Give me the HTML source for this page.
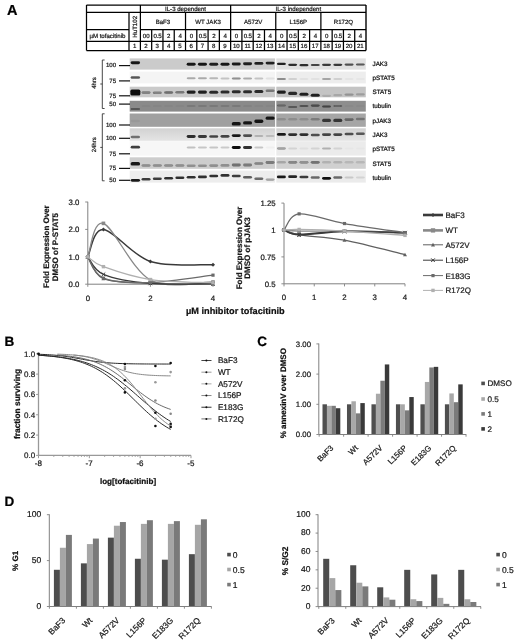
<!DOCTYPE html>
<html><head><meta charset="utf-8"><style>
html,body{margin:0;padding:0;background:#fff;}
svg{display:block;filter:grayscale(1);}
text{font-family:"Liberation Sans", sans-serif;text-rendering:geometricPrecision;stroke:currentColor;stroke-width:0.22px;}
</style></head><body>
<svg width="520" height="642" viewBox="0 0 520 642">
<rect width="520" height="642" fill="#fff"/>
<text x="6.90" y="15.00" font-size="14.5" text-anchor="start" font-weight="bold" fill="#000" color="#000">A</text>
<text x="4.50" y="346.30" font-size="13.5" text-anchor="start" font-weight="bold" fill="#000" color="#000">B</text>
<text x="257.30" y="346.40" font-size="13.5" text-anchor="start" font-weight="bold" fill="#000" color="#000">C</text>
<text x="4.50" y="506.30" font-size="13.5" text-anchor="start" font-weight="bold" fill="#000" color="#000">D</text>
<line x1="86.50" y1="5.00" x2="366.00" y2="5.00" stroke="#000" stroke-width="1.25"/>
<line x1="86.50" y1="12.30" x2="366.00" y2="12.30" stroke="#000" stroke-width="1.25"/>
<line x1="86.50" y1="29.50" x2="129.00" y2="29.50" stroke="#000" stroke-width="1.25"/>
<line x1="140.40" y1="29.50" x2="366.00" y2="29.50" stroke="#000" stroke-width="1.25"/>
<line x1="86.50" y1="41.30" x2="366.00" y2="41.30" stroke="#000" stroke-width="1.25"/>
<line x1="86.50" y1="50.50" x2="366.00" y2="50.50" stroke="#000" stroke-width="1.25"/>
<line x1="86.50" y1="5.00" x2="86.50" y2="50.50" stroke="#000" stroke-width="1.25"/>
<line x1="366.00" y1="5.00" x2="366.00" y2="50.50" stroke="#000" stroke-width="1.4"/>
<line x1="129.00" y1="12.30" x2="129.00" y2="50.50" stroke="#000" stroke-width="1.25"/>
<line x1="140.40" y1="5.00" x2="140.40" y2="50.50" stroke="#000" stroke-width="1.25"/>
<line x1="230.64" y1="5.00" x2="230.64" y2="50.50" stroke="#000" stroke-width="1.25"/>
<line x1="185.52" y1="12.30" x2="185.52" y2="50.50" stroke="#000" stroke-width="1.25"/>
<line x1="275.76" y1="12.30" x2="275.76" y2="50.50" stroke="#000" stroke-width="1.25"/>
<line x1="320.88" y1="12.30" x2="320.88" y2="50.50" stroke="#000" stroke-width="1.25"/>
<line x1="151.68" y1="29.50" x2="151.68" y2="50.50" stroke="#000" stroke-width="1.25"/>
<line x1="162.96" y1="29.50" x2="162.96" y2="50.50" stroke="#000" stroke-width="1.25"/>
<line x1="174.24" y1="29.50" x2="174.24" y2="50.50" stroke="#000" stroke-width="1.25"/>
<line x1="196.80" y1="29.50" x2="196.80" y2="50.50" stroke="#000" stroke-width="1.25"/>
<line x1="208.08" y1="29.50" x2="208.08" y2="50.50" stroke="#000" stroke-width="1.25"/>
<line x1="219.36" y1="29.50" x2="219.36" y2="50.50" stroke="#000" stroke-width="1.25"/>
<line x1="241.92" y1="29.50" x2="241.92" y2="50.50" stroke="#000" stroke-width="1.25"/>
<line x1="253.20" y1="29.50" x2="253.20" y2="50.50" stroke="#000" stroke-width="1.25"/>
<line x1="264.48" y1="29.50" x2="264.48" y2="50.50" stroke="#000" stroke-width="1.25"/>
<line x1="287.04" y1="29.50" x2="287.04" y2="50.50" stroke="#000" stroke-width="1.25"/>
<line x1="298.32" y1="29.50" x2="298.32" y2="50.50" stroke="#000" stroke-width="1.25"/>
<line x1="309.60" y1="29.50" x2="309.60" y2="50.50" stroke="#000" stroke-width="1.25"/>
<line x1="332.16" y1="29.50" x2="332.16" y2="50.50" stroke="#000" stroke-width="1.25"/>
<line x1="343.44" y1="29.50" x2="343.44" y2="50.50" stroke="#000" stroke-width="1.25"/>
<line x1="354.72" y1="29.50" x2="354.72" y2="50.50" stroke="#000" stroke-width="1.25"/>
<text x="185.52" y="10.85" font-size="6.1" text-anchor="middle" fill="#1a1a1a" color="#1a1a1a">IL-3 dependent</text>
<text x="298.32" y="10.85" font-size="6.1" text-anchor="middle" fill="#1a1a1a" color="#1a1a1a">IL-3 independent</text>
<text x="162.96" y="23.60" font-size="6.1" text-anchor="middle" fill="#1a1a1a" color="#1a1a1a">BaF3</text>
<text x="208.08" y="23.60" font-size="6.1" text-anchor="middle" fill="#1a1a1a" color="#1a1a1a">WT JAK3</text>
<text x="253.20" y="23.60" font-size="6.1" text-anchor="middle" fill="#1a1a1a" color="#1a1a1a">A572V</text>
<text x="298.32" y="23.60" font-size="6.1" text-anchor="middle" fill="#1a1a1a" color="#1a1a1a">L156P</text>
<text x="343.44" y="23.60" font-size="6.1" text-anchor="middle" fill="#1a1a1a" color="#1a1a1a">R172Q</text>
<text x="89.40" y="37.60" font-size="6.1" text-anchor="start" fill="#1a1a1a" color="#1a1a1a">µM tofacitinib</text>
<text x="136.90" y="26.80" font-size="6.1" text-anchor="middle" fill="#1a1a1a" color="#1a1a1a" transform="rotate(-90 136.896 26.799999999999997)">HuT102</text>
<text x="146.24" y="37.60" font-size="6.1" text-anchor="middle" fill="#1a1a1a" color="#1a1a1a">00</text>
<text x="157.52" y="37.60" font-size="6.1" text-anchor="middle" fill="#1a1a1a" color="#1a1a1a" letter-spacing="-0.2">0.5</text>
<text x="168.80" y="37.60" font-size="6.1" text-anchor="middle" fill="#1a1a1a" color="#1a1a1a">2</text>
<text x="180.08" y="37.60" font-size="6.1" text-anchor="middle" fill="#1a1a1a" color="#1a1a1a">4</text>
<text x="191.36" y="37.60" font-size="6.1" text-anchor="middle" fill="#1a1a1a" color="#1a1a1a">0</text>
<text x="202.64" y="37.60" font-size="6.1" text-anchor="middle" fill="#1a1a1a" color="#1a1a1a" letter-spacing="-0.2">0.5</text>
<text x="213.92" y="37.60" font-size="6.1" text-anchor="middle" fill="#1a1a1a" color="#1a1a1a">2</text>
<text x="225.20" y="37.60" font-size="6.1" text-anchor="middle" fill="#1a1a1a" color="#1a1a1a">4</text>
<text x="236.48" y="37.60" font-size="6.1" text-anchor="middle" fill="#1a1a1a" color="#1a1a1a">0</text>
<text x="247.76" y="37.60" font-size="6.1" text-anchor="middle" fill="#1a1a1a" color="#1a1a1a" letter-spacing="-0.2">0.5</text>
<text x="259.04" y="37.60" font-size="6.1" text-anchor="middle" fill="#1a1a1a" color="#1a1a1a">2</text>
<text x="270.32" y="37.60" font-size="6.1" text-anchor="middle" fill="#1a1a1a" color="#1a1a1a">4</text>
<text x="281.60" y="37.60" font-size="6.1" text-anchor="middle" fill="#1a1a1a" color="#1a1a1a">0</text>
<text x="292.88" y="37.60" font-size="6.1" text-anchor="middle" fill="#1a1a1a" color="#1a1a1a" letter-spacing="-0.2">0.5</text>
<text x="304.16" y="37.60" font-size="6.1" text-anchor="middle" fill="#1a1a1a" color="#1a1a1a">2</text>
<text x="315.44" y="37.60" font-size="6.1" text-anchor="middle" fill="#1a1a1a" color="#1a1a1a">4</text>
<text x="326.72" y="37.60" font-size="6.1" text-anchor="middle" fill="#1a1a1a" color="#1a1a1a">0</text>
<text x="338.00" y="37.60" font-size="6.1" text-anchor="middle" fill="#1a1a1a" color="#1a1a1a" letter-spacing="-0.2">0.5</text>
<text x="349.28" y="37.60" font-size="6.1" text-anchor="middle" fill="#1a1a1a" color="#1a1a1a">2</text>
<text x="360.56" y="37.60" font-size="6.1" text-anchor="middle" fill="#1a1a1a" color="#1a1a1a">4</text>
<text x="134.70" y="48.10" font-size="6.1" text-anchor="middle" fill="#1a1a1a" color="#1a1a1a">1</text>
<text x="146.04" y="48.10" font-size="6.1" text-anchor="middle" fill="#1a1a1a" color="#1a1a1a">2</text>
<text x="157.32" y="48.10" font-size="6.1" text-anchor="middle" fill="#1a1a1a" color="#1a1a1a">3</text>
<text x="168.60" y="48.10" font-size="6.1" text-anchor="middle" fill="#1a1a1a" color="#1a1a1a">4</text>
<text x="179.88" y="48.10" font-size="6.1" text-anchor="middle" fill="#1a1a1a" color="#1a1a1a">5</text>
<text x="191.16" y="48.10" font-size="6.1" text-anchor="middle" fill="#1a1a1a" color="#1a1a1a">6</text>
<text x="202.44" y="48.10" font-size="6.1" text-anchor="middle" fill="#1a1a1a" color="#1a1a1a">7</text>
<text x="213.72" y="48.10" font-size="6.1" text-anchor="middle" fill="#1a1a1a" color="#1a1a1a">8</text>
<text x="225.00" y="48.10" font-size="6.1" text-anchor="middle" fill="#1a1a1a" color="#1a1a1a">9</text>
<text x="236.28" y="48.10" font-size="6.1" text-anchor="middle" fill="#1a1a1a" color="#1a1a1a">10</text>
<text x="247.56" y="48.10" font-size="6.1" text-anchor="middle" fill="#1a1a1a" color="#1a1a1a">11</text>
<text x="258.84" y="48.10" font-size="6.1" text-anchor="middle" fill="#1a1a1a" color="#1a1a1a">12</text>
<text x="270.12" y="48.10" font-size="6.1" text-anchor="middle" fill="#1a1a1a" color="#1a1a1a">13</text>
<text x="281.40" y="48.10" font-size="6.1" text-anchor="middle" fill="#1a1a1a" color="#1a1a1a">14</text>
<text x="292.68" y="48.10" font-size="6.1" text-anchor="middle" fill="#1a1a1a" color="#1a1a1a">15</text>
<text x="303.96" y="48.10" font-size="6.1" text-anchor="middle" fill="#1a1a1a" color="#1a1a1a">16</text>
<text x="315.24" y="48.10" font-size="6.1" text-anchor="middle" fill="#1a1a1a" color="#1a1a1a">17</text>
<text x="326.52" y="48.10" font-size="6.1" text-anchor="middle" fill="#1a1a1a" color="#1a1a1a">18</text>
<text x="337.80" y="48.10" font-size="6.1" text-anchor="middle" fill="#1a1a1a" color="#1a1a1a">19</text>
<text x="349.08" y="48.10" font-size="6.1" text-anchor="middle" fill="#1a1a1a" color="#1a1a1a">20</text>
<text x="360.36" y="48.10" font-size="6.1" text-anchor="middle" fill="#1a1a1a" color="#1a1a1a">21</text>
<defs><filter id="bl" x="-20%" y="-60%" width="140%" height="220%"><feGaussianBlur stdDeviation="0.5"/></filter><linearGradient id="gj" x1="0" y1="0" x2="0" y2="1"><stop offset="0" stop-color="#d2d2d2"/><stop offset="1" stop-color="#e4e4e4"/></linearGradient></defs>
<rect x="129.70" y="58.40" width="145.40" height="11.20" fill="#cbcbcb"/>
<rect x="276.30" y="58.40" width="89.50" height="11.20" fill="#e0e0e0"/>
<g filter="url(#bl)">
<rect x="130.65" y="61.33" width="9.40" height="2.94" rx="1.6" fill="#111" fill-opacity="0.95"/>
<rect x="186.66" y="62.73" width="9.00" height="2.94" rx="1.6" fill="#111" fill-opacity="0.95"/>
<rect x="197.94" y="62.73" width="9.00" height="2.94" rx="1.6" fill="#111" fill-opacity="0.95"/>
<rect x="209.22" y="62.86" width="9.00" height="2.89" rx="1.6" fill="#111" fill-opacity="0.90"/>
<rect x="220.50" y="62.73" width="9.00" height="2.94" rx="1.6" fill="#111" fill-opacity="0.95"/>
<rect x="231.78" y="62.53" width="9.00" height="2.94" rx="1.6" fill="#111" fill-opacity="0.95"/>
<rect x="243.06" y="62.26" width="9.00" height="2.89" rx="1.6" fill="#111" fill-opacity="0.90"/>
<rect x="254.34" y="61.96" width="9.00" height="2.89" rx="1.6" fill="#111" fill-opacity="0.90"/>
<rect x="265.62" y="61.66" width="9.00" height="2.89" rx="1.6" fill="#111" fill-opacity="0.90"/>
<rect x="276.90" y="62.75" width="9.00" height="2.31" rx="1.6" fill="#111" fill-opacity="0.90"/>
<rect x="288.18" y="63.67" width="9.00" height="2.27" rx="1.6" fill="#111" fill-opacity="0.85"/>
<rect x="299.46" y="64.07" width="9.00" height="2.27" rx="1.6" fill="#111" fill-opacity="0.85"/>
<rect x="310.74" y="63.91" width="9.00" height="2.18" rx="1.6" fill="#111" fill-opacity="0.75"/>
<rect x="322.02" y="63.69" width="9.00" height="2.23" rx="1.6" fill="#111" fill-opacity="0.80"/>
<rect x="333.30" y="63.69" width="9.00" height="2.23" rx="1.6" fill="#111" fill-opacity="0.80"/>
<rect x="344.58" y="63.53" width="9.00" height="2.14" rx="1.6" fill="#111" fill-opacity="0.70"/>
<rect x="355.86" y="63.45" width="9.00" height="2.10" rx="1.6" fill="#111" fill-opacity="0.65"/>
</g>
<text x="372.50" y="66.00" font-size="6.3" text-anchor="start" fill="#111" color="#111">JAK3</text>
<rect x="129.70" y="71.60" width="145.40" height="11.80" fill="#f4f4f4"/>
<rect x="276.30" y="71.60" width="89.50" height="11.80" fill="#ededed"/>
<g filter="url(#bl)">
<rect x="130.65" y="76.16" width="9.40" height="2.47" rx="1.6" fill="#111" fill-opacity="0.70"/>
<rect x="186.66" y="77.26" width="9.00" height="2.09" rx="1.6" fill="#111" fill-opacity="0.30"/>
<rect x="197.94" y="77.26" width="9.00" height="2.09" rx="1.6" fill="#111" fill-opacity="0.30"/>
<rect x="209.22" y="77.28" width="9.00" height="2.04" rx="1.6" fill="#111" fill-opacity="0.25"/>
<rect x="220.50" y="77.40" width="9.00" height="1.99" rx="1.6" fill="#111" fill-opacity="0.20"/>
<rect x="231.78" y="77.38" width="9.00" height="2.23" rx="1.6" fill="#111" fill-opacity="0.45"/>
<rect x="243.06" y="77.46" width="9.00" height="2.09" rx="1.6" fill="#111" fill-opacity="0.30"/>
<rect x="254.34" y="77.50" width="9.00" height="1.99" rx="1.6" fill="#111" fill-opacity="0.20"/>
<rect x="265.62" y="77.56" width="9.00" height="1.88" rx="1.6" fill="#111" fill-opacity="0.08"/>
<rect x="276.90" y="77.88" width="9.00" height="2.23" rx="1.6" fill="#111" fill-opacity="0.45"/>
<rect x="288.18" y="78.04" width="9.00" height="1.92" rx="1.6" fill="#111" fill-opacity="0.12"/>
<rect x="299.46" y="78.08" width="9.00" height="1.85" rx="1.6" fill="#111" fill-opacity="0.05"/>
<rect x="310.74" y="78.08" width="9.00" height="1.85" rx="1.6" fill="#111" fill-opacity="0.05"/>
<rect x="322.02" y="77.96" width="9.00" height="2.09" rx="1.6" fill="#111" fill-opacity="0.30"/>
<rect x="333.30" y="78.04" width="9.00" height="1.92" rx="1.6" fill="#111" fill-opacity="0.12"/>
<rect x="344.58" y="78.08" width="9.00" height="1.84" rx="1.6" fill="#111" fill-opacity="0.04"/>
<rect x="355.86" y="78.09" width="9.00" height="1.83" rx="1.6" fill="#111" fill-opacity="0.03"/>
</g>
<text x="372.50" y="80.40" font-size="6.3" text-anchor="start" fill="#111" color="#111">pSTAT5</text>
<rect x="129.70" y="86.70" width="145.40" height="10.60" fill="#cacaca"/>
<rect x="276.30" y="86.70" width="89.50" height="10.60" fill="#c4c4c4"/>
<g filter="url(#bl)">
<rect x="130.35" y="89.60" width="10.00" height="6.00" rx="1.6" fill="#111" fill-opacity="1.00"/>
<rect x="141.54" y="91.33" width="9.00" height="2.55" rx="1.6" fill="#111" fill-opacity="0.40"/>
<rect x="152.82" y="91.53" width="9.00" height="2.55" rx="1.6" fill="#111" fill-opacity="0.40"/>
<rect x="164.10" y="91.17" width="9.00" height="2.66" rx="1.6" fill="#111" fill-opacity="0.50"/>
<rect x="175.38" y="91.00" width="9.00" height="2.60" rx="1.6" fill="#111" fill-opacity="0.45"/>
<rect x="186.66" y="90.55" width="9.00" height="3.11" rx="1.6" fill="#111" fill-opacity="0.90"/>
<rect x="197.94" y="90.55" width="9.00" height="3.11" rx="1.6" fill="#111" fill-opacity="0.90"/>
<rect x="209.22" y="90.77" width="9.00" height="3.05" rx="1.6" fill="#111" fill-opacity="0.85"/>
<rect x="220.50" y="90.47" width="9.00" height="3.05" rx="1.6" fill="#111" fill-opacity="0.85"/>
<rect x="231.78" y="90.27" width="9.00" height="3.05" rx="1.6" fill="#111" fill-opacity="0.85"/>
<rect x="243.06" y="90.17" width="9.00" height="3.05" rx="1.6" fill="#111" fill-opacity="0.85"/>
<rect x="254.34" y="90.07" width="9.00" height="3.05" rx="1.6" fill="#111" fill-opacity="0.85"/>
<rect x="265.62" y="89.50" width="9.00" height="2.60" rx="1.6" fill="#111" fill-opacity="0.45"/>
<rect x="276.90" y="90.55" width="9.00" height="3.11" rx="1.6" fill="#111" fill-opacity="0.90"/>
<rect x="288.18" y="91.87" width="9.00" height="3.05" rx="1.6" fill="#111" fill-opacity="0.85"/>
<rect x="299.46" y="92.75" width="9.00" height="3.11" rx="1.6" fill="#111" fill-opacity="0.90"/>
<rect x="310.74" y="93.65" width="9.00" height="3.11" rx="1.6" fill="#111" fill-opacity="0.90"/>
<rect x="322.02" y="94.68" width="9.00" height="2.23" rx="1.6" fill="#111" fill-opacity="0.12"/>
<rect x="333.30" y="94.07" width="9.00" height="2.27" rx="1.6" fill="#111" fill-opacity="0.15"/>
<rect x="344.58" y="93.41" width="9.00" height="2.38" rx="1.6" fill="#111" fill-opacity="0.25"/>
<rect x="355.86" y="93.24" width="9.00" height="2.32" rx="1.6" fill="#111" fill-opacity="0.20"/>
</g>
<text x="372.50" y="94.20" font-size="6.3" text-anchor="start" fill="#111" color="#111">STAT5</text>
<rect x="129.70" y="100.80" width="145.40" height="10.80" fill="#8a8a8a"/>
<rect x="276.30" y="100.80" width="89.50" height="10.80" fill="#8e8e8e"/>
<g filter="url(#bl)">
<rect x="130.65" y="107.98" width="9.40" height="2.05" rx="1.6" fill="#111" fill-opacity="0.45"/>
<rect x="141.54" y="105.15" width="9.00" height="1.69" rx="1.6" fill="#111" fill-opacity="0.05"/>
<rect x="152.82" y="105.15" width="9.00" height="1.69" rx="1.6" fill="#111" fill-opacity="0.05"/>
<rect x="164.10" y="105.15" width="9.00" height="1.69" rx="1.6" fill="#111" fill-opacity="0.05"/>
<rect x="175.38" y="105.15" width="9.00" height="1.69" rx="1.6" fill="#111" fill-opacity="0.05"/>
<rect x="186.66" y="105.12" width="9.00" height="1.76" rx="1.6" fill="#111" fill-opacity="0.12"/>
<rect x="197.94" y="105.12" width="9.00" height="1.76" rx="1.6" fill="#111" fill-opacity="0.12"/>
<rect x="209.22" y="105.12" width="9.00" height="1.76" rx="1.6" fill="#111" fill-opacity="0.12"/>
<rect x="220.50" y="105.12" width="9.00" height="1.76" rx="1.6" fill="#111" fill-opacity="0.12"/>
<rect x="231.78" y="105.12" width="9.00" height="1.76" rx="1.6" fill="#111" fill-opacity="0.12"/>
<rect x="243.06" y="105.14" width="9.00" height="1.72" rx="1.6" fill="#111" fill-opacity="0.08"/>
<rect x="254.34" y="105.15" width="9.00" height="1.69" rx="1.6" fill="#111" fill-opacity="0.05"/>
<rect x="265.62" y="105.15" width="9.00" height="1.69" rx="1.6" fill="#111" fill-opacity="0.05"/>
<rect x="276.90" y="104.42" width="9.00" height="1.96" rx="1.6" fill="#111" fill-opacity="0.35"/>
<rect x="288.18" y="105.88" width="9.00" height="2.05" rx="1.6" fill="#111" fill-opacity="0.45"/>
<rect x="299.46" y="104.95" width="9.00" height="2.09" rx="1.6" fill="#111" fill-opacity="0.50"/>
<rect x="310.74" y="104.53" width="9.00" height="2.13" rx="1.6" fill="#111" fill-opacity="0.55"/>
<rect x="322.02" y="105.41" width="9.00" height="2.18" rx="1.6" fill="#111" fill-opacity="0.60"/>
<rect x="333.30" y="105.02" width="9.00" height="1.96" rx="1.6" fill="#111" fill-opacity="0.35"/>
<rect x="344.58" y="105.15" width="9.00" height="1.69" rx="1.6" fill="#111" fill-opacity="0.05"/>
<rect x="355.86" y="105.15" width="9.00" height="1.69" rx="1.6" fill="#111" fill-opacity="0.05"/>
</g>
<text x="372.50" y="107.90" font-size="6.3" text-anchor="start" fill="#111" color="#111">tubulin</text>
<rect x="129.70" y="113.50" width="145.40" height="13.30" fill="#a0a0a0"/>
<rect x="276.30" y="113.50" width="89.50" height="13.30" fill="#a6a6a6"/>
<g filter="url(#bl)">
<rect x="130.65" y="119.84" width="9.40" height="2.31" rx="1.6" fill="#111" fill-opacity="0.05"/>
<rect x="231.78" y="122.11" width="9.00" height="3.39" rx="1.6" fill="#111" fill-opacity="0.95"/>
<rect x="243.06" y="121.21" width="9.00" height="3.39" rx="1.6" fill="#111" fill-opacity="0.95"/>
<rect x="254.34" y="119.51" width="9.00" height="3.39" rx="1.6" fill="#111" fill-opacity="0.95"/>
<rect x="265.62" y="116.41" width="9.00" height="3.39" rx="1.6" fill="#111" fill-opacity="0.95"/>
<rect x="276.90" y="117.98" width="9.00" height="2.43" rx="1.6" fill="#111" fill-opacity="0.15"/>
<rect x="288.18" y="117.98" width="9.00" height="2.43" rx="1.6" fill="#111" fill-opacity="0.15"/>
<rect x="299.46" y="117.98" width="9.00" height="2.43" rx="1.6" fill="#111" fill-opacity="0.15"/>
<rect x="310.74" y="117.92" width="9.00" height="2.55" rx="1.6" fill="#111" fill-opacity="0.25"/>
<rect x="322.02" y="118.83" width="9.00" height="3.15" rx="1.6" fill="#111" fill-opacity="0.75"/>
<rect x="333.30" y="118.83" width="9.00" height="3.15" rx="1.6" fill="#111" fill-opacity="0.75"/>
<rect x="344.58" y="118.20" width="9.00" height="2.79" rx="1.6" fill="#111" fill-opacity="0.45"/>
<rect x="355.86" y="117.69" width="9.00" height="2.61" rx="1.6" fill="#111" fill-opacity="0.30"/>
</g>
<text x="372.50" y="122.60" font-size="6.3" text-anchor="start" fill="#111" color="#111">pJAK3</text>
<rect x="129.70" y="128.30" width="145.40" height="12.50" fill="url(#gj)"/>
<rect x="276.30" y="128.30" width="89.50" height="12.50" fill="url(#gj)"/>
<g filter="url(#bl)">
<rect x="130.65" y="135.74" width="9.40" height="2.52" rx="1.6" fill="#111" fill-opacity="0.55"/>
<rect x="186.66" y="135.08" width="9.00" height="2.83" rx="1.6" fill="#111" fill-opacity="0.85"/>
<rect x="197.94" y="135.11" width="9.00" height="2.78" rx="1.6" fill="#111" fill-opacity="0.80"/>
<rect x="209.22" y="135.13" width="9.00" height="2.73" rx="1.6" fill="#111" fill-opacity="0.75"/>
<rect x="220.50" y="134.94" width="9.00" height="2.73" rx="1.6" fill="#111" fill-opacity="0.75"/>
<rect x="231.78" y="134.13" width="9.00" height="2.94" rx="1.6" fill="#111" fill-opacity="0.95"/>
<rect x="243.06" y="134.26" width="9.00" height="2.68" rx="1.6" fill="#111" fill-opacity="0.70"/>
<rect x="254.34" y="134.92" width="9.00" height="2.16" rx="1.6" fill="#111" fill-opacity="0.20"/>
<rect x="265.62" y="134.95" width="9.00" height="2.11" rx="1.6" fill="#111" fill-opacity="0.15"/>
<rect x="276.90" y="132.93" width="9.00" height="2.94" rx="1.6" fill="#111" fill-opacity="0.95"/>
<rect x="288.18" y="133.18" width="9.00" height="2.83" rx="1.6" fill="#111" fill-opacity="0.85"/>
<rect x="299.46" y="133.18" width="9.00" height="2.83" rx="1.6" fill="#111" fill-opacity="0.85"/>
<rect x="310.74" y="133.66" width="9.00" height="2.68" rx="1.6" fill="#111" fill-opacity="0.70"/>
<rect x="322.02" y="133.23" width="9.00" height="2.73" rx="1.6" fill="#111" fill-opacity="0.75"/>
<rect x="333.30" y="133.23" width="9.00" height="2.73" rx="1.6" fill="#111" fill-opacity="0.75"/>
<rect x="344.58" y="132.66" width="9.00" height="2.68" rx="1.6" fill="#111" fill-opacity="0.70"/>
<rect x="355.86" y="132.49" width="9.00" height="2.63" rx="1.6" fill="#111" fill-opacity="0.65"/>
</g>
<text x="372.50" y="136.80" font-size="6.3" text-anchor="start" fill="#111" color="#111">JAK3</text>
<rect x="129.70" y="141.20" width="145.40" height="14.40" fill="#f7f7f7"/>
<rect x="276.30" y="141.20" width="89.50" height="14.40" fill="#ebebeb"/>
<g filter="url(#bl)">
<rect x="130.65" y="145.81" width="9.40" height="2.78" rx="1.6" fill="#111" fill-opacity="0.80"/>
<rect x="186.66" y="146.41" width="9.00" height="2.18" rx="1.6" fill="#111" fill-opacity="0.22"/>
<rect x="197.94" y="146.42" width="9.00" height="2.16" rx="1.6" fill="#111" fill-opacity="0.20"/>
<rect x="209.22" y="146.42" width="9.00" height="2.16" rx="1.6" fill="#111" fill-opacity="0.20"/>
<rect x="220.50" y="146.43" width="9.00" height="2.14" rx="1.6" fill="#111" fill-opacity="0.18"/>
<rect x="231.78" y="146.00" width="9.00" height="2.99" rx="1.6" fill="#111" fill-opacity="1.00"/>
<rect x="243.06" y="146.08" width="9.00" height="2.83" rx="1.6" fill="#111" fill-opacity="0.85"/>
<rect x="254.34" y="146.42" width="9.00" height="2.16" rx="1.6" fill="#111" fill-opacity="0.20"/>
<rect x="265.62" y="146.51" width="9.00" height="1.98" rx="1.6" fill="#111" fill-opacity="0.03"/>
<rect x="276.90" y="147.34" width="9.00" height="2.31" rx="1.6" fill="#111" fill-opacity="0.35"/>
<rect x="288.18" y="147.47" width="9.00" height="2.05" rx="1.6" fill="#111" fill-opacity="0.10"/>
<rect x="299.46" y="147.50" width="9.00" height="2.00" rx="1.6" fill="#111" fill-opacity="0.05"/>
<rect x="310.74" y="147.47" width="9.00" height="2.05" rx="1.6" fill="#111" fill-opacity="0.10"/>
<rect x="322.02" y="147.40" width="9.00" height="2.21" rx="1.6" fill="#111" fill-opacity="0.25"/>
<rect x="333.30" y="147.47" width="9.00" height="2.05" rx="1.6" fill="#111" fill-opacity="0.10"/>
<rect x="344.58" y="147.51" width="9.00" height="1.97" rx="1.6" fill="#111" fill-opacity="0.02"/>
<rect x="355.86" y="147.51" width="9.00" height="1.97" rx="1.6" fill="#111" fill-opacity="0.02"/>
</g>
<text x="372.50" y="151.20" font-size="6.3" text-anchor="start" fill="#111" color="#111">pSTAT5</text>
<rect x="129.70" y="157.30" width="145.40" height="11.50" fill="#cdcdcd"/>
<rect x="276.30" y="157.30" width="89.50" height="11.50" fill="#d0d0d0"/>
<g filter="url(#bl)">
<rect x="130.65" y="162.11" width="9.40" height="3.39" rx="1.6" fill="#111" fill-opacity="0.95"/>
<rect x="141.54" y="164.16" width="9.00" height="2.67" rx="1.6" fill="#111" fill-opacity="0.35"/>
<rect x="152.82" y="164.16" width="9.00" height="2.67" rx="1.6" fill="#111" fill-opacity="0.35"/>
<rect x="164.10" y="164.16" width="9.00" height="2.67" rx="1.6" fill="#111" fill-opacity="0.35"/>
<rect x="175.38" y="164.16" width="9.00" height="2.67" rx="1.6" fill="#111" fill-opacity="0.35"/>
<rect x="186.66" y="164.50" width="9.00" height="2.61" rx="1.6" fill="#111" fill-opacity="0.30"/>
<rect x="197.94" y="164.50" width="9.00" height="2.61" rx="1.6" fill="#111" fill-opacity="0.30"/>
<rect x="209.22" y="164.29" width="9.00" height="2.61" rx="1.6" fill="#111" fill-opacity="0.30"/>
<rect x="220.50" y="164.09" width="9.00" height="2.61" rx="1.6" fill="#111" fill-opacity="0.30"/>
<rect x="231.78" y="163.57" width="9.00" height="2.85" rx="1.6" fill="#111" fill-opacity="0.50"/>
<rect x="243.06" y="163.60" width="9.00" height="2.79" rx="1.6" fill="#111" fill-opacity="0.45"/>
<rect x="254.34" y="162.13" width="9.00" height="2.73" rx="1.6" fill="#111" fill-opacity="0.40"/>
<rect x="265.62" y="161.10" width="9.00" height="2.79" rx="1.6" fill="#111" fill-opacity="0.45"/>
<rect x="276.90" y="161.06" width="9.00" height="2.49" rx="1.6" fill="#111" fill-opacity="0.20"/>
<rect x="288.18" y="160.94" width="9.00" height="2.73" rx="1.6" fill="#111" fill-opacity="0.40"/>
<rect x="299.46" y="160.97" width="9.00" height="2.67" rx="1.6" fill="#111" fill-opacity="0.35"/>
<rect x="310.74" y="160.88" width="9.00" height="2.85" rx="1.6" fill="#111" fill-opacity="0.50"/>
<rect x="322.02" y="161.09" width="9.00" height="2.43" rx="1.6" fill="#111" fill-opacity="0.15"/>
<rect x="333.30" y="161.09" width="9.00" height="2.43" rx="1.6" fill="#111" fill-opacity="0.15"/>
<rect x="344.58" y="161.10" width="9.00" height="2.39" rx="1.6" fill="#111" fill-opacity="0.12"/>
<rect x="355.86" y="161.10" width="9.00" height="2.39" rx="1.6" fill="#111" fill-opacity="0.12"/>
</g>
<text x="372.50" y="165.50" font-size="6.3" text-anchor="start" fill="#111" color="#111">STAT5</text>
<rect x="129.70" y="170.60" width="145.40" height="12.00" fill="#ededed"/>
<rect x="276.30" y="170.60" width="89.50" height="12.00" fill="#ebebeb"/>
<g filter="url(#bl)">
<rect x="130.65" y="178.94" width="9.40" height="2.71" rx="1.6" fill="#111" fill-opacity="0.95"/>
<rect x="141.54" y="177.92" width="9.00" height="2.57" rx="1.6" fill="#111" fill-opacity="0.80"/>
<rect x="152.82" y="177.52" width="9.00" height="2.57" rx="1.6" fill="#111" fill-opacity="0.80"/>
<rect x="164.10" y="176.89" width="9.00" height="2.62" rx="1.6" fill="#111" fill-opacity="0.85"/>
<rect x="175.38" y="176.39" width="9.00" height="2.62" rx="1.6" fill="#111" fill-opacity="0.85"/>
<rect x="186.66" y="175.99" width="9.00" height="2.62" rx="1.6" fill="#111" fill-opacity="0.85"/>
<rect x="197.94" y="175.59" width="9.00" height="2.62" rx="1.6" fill="#111" fill-opacity="0.85"/>
<rect x="209.22" y="174.69" width="9.00" height="2.62" rx="1.6" fill="#111" fill-opacity="0.85"/>
<rect x="220.50" y="174.09" width="9.00" height="2.62" rx="1.6" fill="#111" fill-opacity="0.85"/>
<rect x="231.78" y="174.72" width="9.00" height="2.57" rx="1.6" fill="#111" fill-opacity="0.80"/>
<rect x="243.06" y="176.09" width="9.00" height="2.42" rx="1.6" fill="#111" fill-opacity="0.65"/>
<rect x="254.34" y="177.61" width="9.00" height="2.38" rx="1.6" fill="#111" fill-opacity="0.60"/>
<rect x="265.62" y="178.53" width="9.00" height="2.14" rx="1.6" fill="#111" fill-opacity="0.35"/>
<rect x="276.90" y="175.54" width="9.00" height="2.71" rx="1.6" fill="#111" fill-opacity="0.95"/>
<rect x="288.18" y="175.37" width="9.00" height="2.66" rx="1.6" fill="#111" fill-opacity="0.90"/>
<rect x="299.46" y="175.72" width="9.00" height="2.57" rx="1.6" fill="#111" fill-opacity="0.80"/>
<rect x="310.74" y="176.31" width="9.00" height="2.38" rx="1.6" fill="#111" fill-opacity="0.60"/>
<rect x="322.02" y="176.92" width="9.00" height="2.76" rx="1.6" fill="#111" fill-opacity="1.00"/>
<rect x="333.30" y="176.31" width="9.00" height="2.38" rx="1.6" fill="#111" fill-opacity="0.60"/>
<rect x="344.58" y="176.53" width="9.00" height="1.94" rx="1.6" fill="#111" fill-opacity="0.15"/>
<rect x="355.86" y="176.55" width="9.00" height="1.90" rx="1.6" fill="#111" fill-opacity="0.10"/>
</g>
<text x="372.50" y="179.60" font-size="6.3" text-anchor="start" fill="#111" color="#111">tubulin</text>
<text x="116.10" y="67.00" font-size="6.1" text-anchor="end" fill="#1a1a1a" color="#1a1a1a">100</text>
<line x1="119.00" y1="65.60" x2="130.00" y2="65.60" stroke="#111" stroke-width="1.2"/>
<text x="116.10" y="83.40" font-size="6.1" text-anchor="end" fill="#1a1a1a" color="#1a1a1a">75</text>
<line x1="119.00" y1="80.90" x2="130.00" y2="80.90" stroke="#111" stroke-width="1.2"/>
<text x="116.10" y="97.50" font-size="6.1" text-anchor="end" fill="#1a1a1a" color="#1a1a1a">75</text>
<line x1="119.00" y1="95.80" x2="130.00" y2="95.80" stroke="#111" stroke-width="1.2"/>
<text x="116.10" y="106.30" font-size="6.1" text-anchor="end" fill="#1a1a1a" color="#1a1a1a">50</text>
<line x1="119.00" y1="104.10" x2="130.00" y2="104.10" stroke="#111" stroke-width="1.2"/>
<text x="116.10" y="127.00" font-size="6.1" text-anchor="end" fill="#1a1a1a" color="#1a1a1a">100</text>
<line x1="119.00" y1="125.00" x2="130.00" y2="125.00" stroke="#111" stroke-width="1.2"/>
<text x="116.10" y="140.30" font-size="6.1" text-anchor="end" fill="#1a1a1a" color="#1a1a1a">100</text>
<line x1="119.00" y1="138.30" x2="130.00" y2="138.30" stroke="#111" stroke-width="1.2"/>
<text x="116.10" y="155.90" font-size="6.1" text-anchor="end" fill="#1a1a1a" color="#1a1a1a">75</text>
<line x1="119.00" y1="153.80" x2="130.00" y2="153.80" stroke="#111" stroke-width="1.2"/>
<text x="116.10" y="170.40" font-size="6.1" text-anchor="end" fill="#1a1a1a" color="#1a1a1a">75</text>
<line x1="119.00" y1="168.40" x2="130.00" y2="168.40" stroke="#111" stroke-width="1.2"/>
<text x="116.10" y="182.30" font-size="6.1" text-anchor="end" fill="#1a1a1a" color="#1a1a1a">50</text>
<line x1="119.00" y1="180.30" x2="130.00" y2="180.30" stroke="#111" stroke-width="1.2"/>
<path d="M104.6 60.00 L102.3 60.00 L102.3 108.50 L104.6 108.50 M102.3 84.00 L100.3 84.00" stroke="#333" stroke-width="0.9" fill="none"/>
<path d="M104.6 113.80 L102.3 113.80 L102.3 180.80 L104.6 180.80 M102.3 147.40 L100.3 147.40" stroke="#333" stroke-width="0.9" fill="none"/>
<text x="95.90" y="83.00" font-size="6.0" text-anchor="middle" fill="#1a1a1a" color="#1a1a1a" transform="rotate(-90 95.89999999999999 83.0)">4hrs</text>
<text x="95.90" y="144.80" font-size="6.0" text-anchor="middle" fill="#1a1a1a" color="#1a1a1a" transform="rotate(-90 95.89999999999999 144.8)">24hrs</text>
<line x1="87.80" y1="201.80" x2="87.80" y2="284.20" stroke="#808080" stroke-width="1.0"/>
<line x1="87.80" y1="284.20" x2="213.00" y2="284.20" stroke="#808080" stroke-width="1.0"/>
<line x1="85.20" y1="202.00" x2="87.80" y2="202.00" stroke="#808080" stroke-width="0.9"/>
<text x="79.40" y="204.80" font-size="7.8" text-anchor="end" fill="#1a1a1a" color="#1a1a1a">3.0</text>
<line x1="85.20" y1="229.40" x2="87.80" y2="229.40" stroke="#808080" stroke-width="0.9"/>
<text x="79.40" y="232.20" font-size="7.8" text-anchor="end" fill="#1a1a1a" color="#1a1a1a">2.0</text>
<line x1="85.20" y1="256.80" x2="87.80" y2="256.80" stroke="#808080" stroke-width="0.9"/>
<text x="79.40" y="259.60" font-size="7.8" text-anchor="end" fill="#1a1a1a" color="#1a1a1a">1.0</text>
<line x1="85.20" y1="284.20" x2="87.80" y2="284.20" stroke="#808080" stroke-width="0.9"/>
<text x="79.40" y="287.00" font-size="7.8" text-anchor="end" fill="#1a1a1a" color="#1a1a1a">0.0</text>
<line x1="87.80" y1="284.20" x2="87.80" y2="286.80" stroke="#808080" stroke-width="0.9"/>
<text x="87.80" y="300.50" font-size="7.8" text-anchor="middle" fill="#1a1a1a" color="#1a1a1a">0</text>
<line x1="150.40" y1="284.20" x2="150.40" y2="286.80" stroke="#808080" stroke-width="0.9"/>
<text x="150.40" y="300.50" font-size="7.8" text-anchor="middle" fill="#1a1a1a" color="#1a1a1a">2</text>
<line x1="213.00" y1="284.20" x2="213.00" y2="286.80" stroke="#808080" stroke-width="0.9"/>
<text x="213.00" y="300.50" font-size="7.8" text-anchor="middle" fill="#1a1a1a" color="#1a1a1a">4</text>
<path d="M87.80 256.80 C90.41 252.23 93.02 228.62 103.45 229.40 C113.88 230.18 132.14 255.57 150.40 261.46 C168.66 267.35 202.57 264.20 213.00 264.75" stroke="#3a3a3a" stroke-width="1.5" fill="none"/>
<path d="M87.80 254.80 L89.80 256.80 L87.80 258.80 L85.80 256.80Z" fill="#3a3a3a"/>
<path d="M103.45 227.40 L105.45 229.40 L103.45 231.40 L101.45 229.40Z" fill="#3a3a3a"/>
<path d="M150.40 259.46 L152.40 261.46 L150.40 263.46 L148.40 261.46Z" fill="#3a3a3a"/>
<path d="M213.00 262.75 L215.00 264.75 L213.00 266.75 L211.00 264.75Z" fill="#3a3a3a"/>
<path d="M87.80 256.80 C90.41 251.23 93.02 219.49 103.45 223.37 C113.88 227.25 132.14 270.32 150.40 280.09 C168.66 289.86 202.57 281.69 213.00 282.01" stroke="#888888" stroke-width="1.3" fill="none"/>
<rect x="86.00" y="255.00" width="3.60" height="3.60" fill="#888888"/>
<rect x="101.65" y="221.57" width="3.60" height="3.60" fill="#888888"/>
<rect x="148.60" y="278.29" width="3.60" height="3.60" fill="#888888"/>
<rect x="211.20" y="280.21" width="3.60" height="3.60" fill="#888888"/>
<path d="M87.80 256.80 C90.41 260.45 93.02 274.29 103.45 278.72 C113.88 283.15 132.14 282.46 150.40 283.38 C168.66 284.29 202.57 284.06 213.00 284.20" stroke="#606060" stroke-width="1.3" fill="none"/>
<path d="M87.80 254.80 L89.80 258.40 L85.80 258.40Z" fill="#606060"/>
<path d="M103.45 276.72 L105.45 280.32 L101.45 280.32Z" fill="#606060"/>
<path d="M150.40 281.38 L152.40 284.98 L148.40 284.98Z" fill="#606060"/>
<path d="M213.00 282.20 L215.00 285.80 L211.00 285.80Z" fill="#606060"/>
<path d="M87.80 256.80 C90.41 259.72 93.02 269.91 103.45 274.34 C113.88 278.77 132.14 281.83 150.40 283.38 C168.66 284.93 202.57 283.61 213.00 283.65" stroke="#3a3a3a" stroke-width="1.3" fill="none"/>
<path d="M86.00 255.00 L89.60 258.60 M89.60 255.00 L86.00 258.60" stroke="#3a3a3a" stroke-width="1"/>
<path d="M101.65 272.54 L105.25 276.14 M105.25 272.54 L101.65 276.14" stroke="#3a3a3a" stroke-width="1"/>
<path d="M148.60 281.58 L152.20 285.18 M152.20 281.58 L148.60 285.18" stroke="#3a3a3a" stroke-width="1"/>
<path d="M211.20 281.85 L214.80 285.45 M214.80 281.85 L211.20 285.45" stroke="#3a3a3a" stroke-width="1"/>
<path d="M87.80 256.80 C90.41 260.36 93.02 273.88 103.45 278.17 C113.88 282.46 132.14 283.06 150.40 282.56 C168.66 282.05 202.57 276.39 213.00 275.16" stroke="#6a6a6a" stroke-width="1.3" fill="none"/>
<rect x="86.20" y="255.20" width="3.20" height="3.20" fill="#6a6a6a"/>
<rect x="101.85" y="276.57" width="3.20" height="3.20" fill="#6a6a6a"/>
<rect x="148.80" y="280.96" width="3.20" height="3.20" fill="#6a6a6a"/>
<rect x="211.40" y="273.56" width="3.20" height="3.20" fill="#6a6a6a"/>
<path d="M87.80 256.80 C90.41 258.44 93.02 262.87 103.45 266.66 C113.88 270.45 132.14 276.85 150.40 279.54 C168.66 282.24 202.57 282.28 213.00 282.83" stroke="#b0b0b0" stroke-width="1.3" fill="none"/>
<rect x="86.10" y="255.10" width="3.40" height="3.40" fill="#b0b0b0"/>
<rect x="101.75" y="264.96" width="3.40" height="3.40" fill="#b0b0b0"/>
<rect x="148.70" y="277.84" width="3.40" height="3.40" fill="#b0b0b0"/>
<rect x="211.30" y="281.13" width="3.40" height="3.40" fill="#b0b0b0"/>
<line x1="284.00" y1="203.20" x2="284.00" y2="283.80" stroke="#808080" stroke-width="1.0"/>
<line x1="284.00" y1="283.80" x2="405.00" y2="283.80" stroke="#808080" stroke-width="1.0"/>
<line x1="281.40" y1="203.10" x2="284.00" y2="203.10" stroke="#808080" stroke-width="0.9"/>
<text x="275.60" y="205.90" font-size="7.8" text-anchor="end" fill="#1a1a1a" color="#1a1a1a">1.25</text>
<line x1="281.40" y1="230.00" x2="284.00" y2="230.00" stroke="#808080" stroke-width="0.9"/>
<text x="275.60" y="232.80" font-size="7.8" text-anchor="end" fill="#1a1a1a" color="#1a1a1a">1</text>
<line x1="281.40" y1="256.90" x2="284.00" y2="256.90" stroke="#808080" stroke-width="0.9"/>
<text x="275.60" y="259.70" font-size="7.8" text-anchor="end" fill="#1a1a1a" color="#1a1a1a">0.75</text>
<line x1="281.40" y1="283.80" x2="284.00" y2="283.80" stroke="#808080" stroke-width="0.9"/>
<text x="275.60" y="286.60" font-size="7.8" text-anchor="end" fill="#1a1a1a" color="#1a1a1a">0.5</text>
<line x1="284.00" y1="283.80" x2="284.00" y2="286.40" stroke="#808080" stroke-width="0.9"/>
<text x="284.00" y="300.10" font-size="7.8" text-anchor="middle" fill="#1a1a1a" color="#1a1a1a">0</text>
<line x1="314.25" y1="283.80" x2="314.25" y2="286.40" stroke="#808080" stroke-width="0.9"/>
<text x="314.25" y="300.10" font-size="7.8" text-anchor="middle" fill="#1a1a1a" color="#1a1a1a">1</text>
<line x1="344.50" y1="283.80" x2="344.50" y2="286.40" stroke="#808080" stroke-width="0.9"/>
<text x="344.50" y="300.10" font-size="7.8" text-anchor="middle" fill="#1a1a1a" color="#1a1a1a">2</text>
<line x1="374.75" y1="283.80" x2="374.75" y2="286.40" stroke="#808080" stroke-width="0.9"/>
<text x="374.75" y="300.10" font-size="7.8" text-anchor="middle" fill="#1a1a1a" color="#1a1a1a">3</text>
<line x1="405.00" y1="283.80" x2="405.00" y2="286.40" stroke="#808080" stroke-width="0.9"/>
<text x="405.00" y="300.10" font-size="7.8" text-anchor="middle" fill="#1a1a1a" color="#1a1a1a">4</text>
<path d="M284.00 230.00 C286.52 230.72 289.04 234.12 299.12 234.30 C309.21 234.48 326.85 231.35 344.50 231.08 C362.15 230.81 394.92 232.42 405.00 232.69" stroke="#3a3a3a" stroke-width="1.5" fill="none"/>
<path d="M284.00 228.00 L286.00 230.00 L284.00 232.00 L282.00 230.00Z" fill="#3a3a3a"/>
<path d="M299.12 232.30 L301.12 234.30 L299.12 236.30 L297.12 234.30Z" fill="#3a3a3a"/>
<path d="M344.50 229.08 L346.50 231.08 L344.50 233.08 L342.50 231.08Z" fill="#3a3a3a"/>
<path d="M405.00 230.69 L407.00 232.69 L405.00 234.69 L403.00 232.69Z" fill="#3a3a3a"/>
<path d="M284.00 230.00 C286.52 230.18 289.04 230.90 299.12 231.08 C309.21 231.26 326.85 230.72 344.50 231.08 C362.15 231.43 394.92 232.87 405.00 233.23" stroke="#888888" stroke-width="1.3" fill="none"/>
<rect x="282.20" y="228.20" width="3.60" height="3.60" fill="#888888"/>
<rect x="297.32" y="229.28" width="3.60" height="3.60" fill="#888888"/>
<rect x="342.70" y="229.28" width="3.60" height="3.60" fill="#888888"/>
<rect x="403.20" y="231.43" width="3.60" height="3.60" fill="#888888"/>
<path d="M284.00 230.00 C286.52 230.81 289.04 233.14 299.12 234.84 C309.21 236.55 326.85 236.90 344.50 240.22 C362.15 243.54 394.92 252.33 405.00 254.75" stroke="#606060" stroke-width="1.3" fill="none"/>
<path d="M284.00 228.00 L286.00 231.60 L282.00 231.60Z" fill="#606060"/>
<path d="M299.12 232.84 L301.12 236.44 L297.12 236.44Z" fill="#606060"/>
<path d="M344.50 238.22 L346.50 241.82 L342.50 241.82Z" fill="#606060"/>
<path d="M405.00 252.75 L407.00 256.35 L403.00 256.35Z" fill="#606060"/>
<path d="M284.00 230.00 C286.52 230.81 289.04 234.57 299.12 234.84 C309.21 235.11 326.85 231.97 344.50 231.61 C362.15 231.26 394.92 232.51 405.00 232.69" stroke="#3a3a3a" stroke-width="1.3" fill="none"/>
<path d="M282.20 228.20 L285.80 231.80 M285.80 228.20 L282.20 231.80" stroke="#3a3a3a" stroke-width="1"/>
<path d="M297.32 233.04 L300.93 236.64 M300.93 233.04 L297.32 236.64" stroke="#3a3a3a" stroke-width="1"/>
<path d="M342.70 229.81 L346.30 233.41 M346.30 229.81 L342.70 233.41" stroke="#3a3a3a" stroke-width="1"/>
<path d="M403.20 230.89 L406.80 234.49 M406.80 230.89 L403.20 234.49" stroke="#3a3a3a" stroke-width="1"/>
<path d="M284.00 230.00 C286.52 227.31 289.04 214.94 299.12 213.86 C309.21 212.78 326.85 220.41 344.50 223.54 C362.15 226.68 394.92 231.17 405.00 232.69" stroke="#6a6a6a" stroke-width="1.3" fill="none"/>
<rect x="282.40" y="228.40" width="3.20" height="3.20" fill="#6a6a6a"/>
<rect x="297.52" y="212.26" width="3.20" height="3.20" fill="#6a6a6a"/>
<rect x="342.90" y="221.94" width="3.20" height="3.20" fill="#6a6a6a"/>
<rect x="403.40" y="231.09" width="3.20" height="3.20" fill="#6a6a6a"/>
<path d="M284.00 230.00 C286.52 229.91 289.04 229.28 299.12 229.46 C309.21 229.64 326.85 230.09 344.50 231.08 C362.15 232.06 394.92 234.66 405.00 235.38" stroke="#b0b0b0" stroke-width="1.3" fill="none"/>
<rect x="282.30" y="228.30" width="3.40" height="3.40" fill="#b0b0b0"/>
<rect x="297.43" y="227.76" width="3.40" height="3.40" fill="#b0b0b0"/>
<rect x="342.80" y="229.38" width="3.40" height="3.40" fill="#b0b0b0"/>
<rect x="403.30" y="233.68" width="3.40" height="3.40" fill="#b0b0b0"/>
<text x="49.30" y="246.60" font-size="8.0" text-anchor="middle" font-weight="bold" fill="#1a1a1a" color="#1a1a1a" transform="rotate(-90 49.3 246.6)">Fold Expression Over</text>
<text x="57.80" y="247.10" font-size="8.0" text-anchor="middle" font-weight="bold" fill="#1a1a1a" color="#1a1a1a" transform="rotate(-90 57.8 247.1)">DMSO of P-STAT5</text>
<text x="241.60" y="248.00" font-size="8.0" text-anchor="middle" font-weight="bold" fill="#1a1a1a" color="#1a1a1a" transform="rotate(-90 241.6 248.0)">Fold Expression Over</text>
<text x="250.10" y="248.00" font-size="8.0" text-anchor="middle" font-weight="bold" fill="#1a1a1a" color="#1a1a1a" transform="rotate(-90 250.1 248.0)">DMSO of pJAK3</text>
<text x="186.00" y="314.20" font-size="9.2" text-anchor="start" font-weight="bold" fill="#111" color="#111">µM inhibitor tofacitinib</text>
<line x1="423.00" y1="215.00" x2="443.00" y2="215.00" stroke="#3a3a3a" stroke-width="2.6"/>
<path d="M433.00 213.00 L435.00 215.00 L433.00 217.00 L431.00 215.00Z" fill="#3a3a3a"/>
<text x="445.50" y="217.90" font-size="8.0" text-anchor="start" fill="#1a1a1a" color="#1a1a1a">BaF3</text>
<line x1="423.00" y1="230.40" x2="443.00" y2="230.40" stroke="#888888" stroke-width="2.6"/>
<rect x="430.84" y="228.24" width="4.32" height="4.32" fill="#888888"/>
<text x="445.50" y="233.30" font-size="8.0" text-anchor="start" fill="#1a1a1a" color="#1a1a1a">WT</text>
<line x1="423.00" y1="244.80" x2="443.00" y2="244.80" stroke="#606060" stroke-width="1.0"/>
<path d="M433.00 242.80 L435.00 246.40 L431.00 246.40Z" fill="#606060"/>
<text x="445.50" y="247.70" font-size="8.0" text-anchor="start" fill="#1a1a1a" color="#1a1a1a">A572V</text>
<line x1="423.00" y1="260.20" x2="443.00" y2="260.20" stroke="#3a3a3a" stroke-width="1.0"/>
<path d="M431.20 258.40 L434.80 262.00 M434.80 258.40 L431.20 262.00" stroke="#3a3a3a" stroke-width="1"/>
<text x="445.50" y="263.10" font-size="8.0" text-anchor="start" fill="#1a1a1a" color="#1a1a1a">L156P</text>
<line x1="423.00" y1="275.60" x2="443.00" y2="275.60" stroke="#6a6a6a" stroke-width="1.0"/>
<rect x="431.40" y="274.00" width="3.20" height="3.20" fill="#6a6a6a"/>
<text x="445.50" y="278.50" font-size="8.0" text-anchor="start" fill="#1a1a1a" color="#1a1a1a">E183G</text>
<line x1="423.00" y1="290.40" x2="443.00" y2="290.40" stroke="#b0b0b0" stroke-width="1.0"/>
<rect x="431.30" y="288.70" width="3.40" height="3.40" fill="#b0b0b0"/>
<text x="445.50" y="293.30" font-size="8.0" text-anchor="start" fill="#1a1a1a" color="#1a1a1a">R172Q</text>
<line x1="38.50" y1="353.30" x2="38.50" y2="455.40" stroke="#999999" stroke-width="1.3"/>
<line x1="38.50" y1="455.40" x2="190.99" y2="455.40" stroke="#999999" stroke-width="1.3"/>
<line x1="36.10" y1="455.40" x2="38.50" y2="455.40" stroke="#999999" stroke-width="1.0"/>
<text x="35.10" y="458.30" font-size="8.0" text-anchor="end" fill="#1a1a1a" color="#1a1a1a">0.0</text>
<line x1="36.10" y1="435.08" x2="38.50" y2="435.08" stroke="#999999" stroke-width="1.0"/>
<text x="35.10" y="437.98" font-size="8.0" text-anchor="end" fill="#1a1a1a" color="#1a1a1a">0.2</text>
<line x1="36.10" y1="414.76" x2="38.50" y2="414.76" stroke="#999999" stroke-width="1.0"/>
<text x="35.10" y="417.66" font-size="8.0" text-anchor="end" fill="#1a1a1a" color="#1a1a1a">0.4</text>
<line x1="36.10" y1="394.44" x2="38.50" y2="394.44" stroke="#999999" stroke-width="1.0"/>
<text x="35.10" y="397.34" font-size="8.0" text-anchor="end" fill="#1a1a1a" color="#1a1a1a">0.6</text>
<line x1="36.10" y1="374.12" x2="38.50" y2="374.12" stroke="#999999" stroke-width="1.0"/>
<text x="35.10" y="377.02" font-size="8.0" text-anchor="end" fill="#1a1a1a" color="#1a1a1a">0.8</text>
<line x1="36.10" y1="353.80" x2="38.50" y2="353.80" stroke="#999999" stroke-width="1.0"/>
<text x="35.10" y="356.70" font-size="8.0" text-anchor="end" fill="#1a1a1a" color="#1a1a1a">1.0</text>
<line x1="38.50" y1="455.40" x2="38.50" y2="458.20" stroke="#999999" stroke-width="1.0"/>
<text x="38.30" y="465.60" font-size="8.0" text-anchor="middle" fill="#1a1a1a" color="#1a1a1a">-8</text>
<line x1="53.80" y1="455.40" x2="53.80" y2="457.00" stroke="#999999" stroke-width="0.8"/>
<line x1="62.75" y1="455.40" x2="62.75" y2="457.00" stroke="#999999" stroke-width="0.8"/>
<line x1="69.10" y1="455.40" x2="69.10" y2="457.00" stroke="#999999" stroke-width="0.8"/>
<line x1="74.03" y1="455.40" x2="74.03" y2="457.00" stroke="#999999" stroke-width="0.8"/>
<line x1="78.05" y1="455.40" x2="78.05" y2="457.00" stroke="#999999" stroke-width="0.8"/>
<line x1="81.46" y1="455.40" x2="81.46" y2="457.00" stroke="#999999" stroke-width="0.8"/>
<line x1="84.40" y1="455.40" x2="84.40" y2="457.00" stroke="#999999" stroke-width="0.8"/>
<line x1="87.00" y1="455.40" x2="87.00" y2="457.00" stroke="#999999" stroke-width="0.8"/>
<line x1="89.33" y1="455.40" x2="89.33" y2="458.20" stroke="#999999" stroke-width="1.0"/>
<text x="89.13" y="465.60" font-size="8.0" text-anchor="middle" fill="#1a1a1a" color="#1a1a1a">-7</text>
<line x1="104.63" y1="455.40" x2="104.63" y2="457.00" stroke="#999999" stroke-width="0.8"/>
<line x1="113.58" y1="455.40" x2="113.58" y2="457.00" stroke="#999999" stroke-width="0.8"/>
<line x1="119.93" y1="455.40" x2="119.93" y2="457.00" stroke="#999999" stroke-width="0.8"/>
<line x1="124.86" y1="455.40" x2="124.86" y2="457.00" stroke="#999999" stroke-width="0.8"/>
<line x1="128.88" y1="455.40" x2="128.88" y2="457.00" stroke="#999999" stroke-width="0.8"/>
<line x1="132.29" y1="455.40" x2="132.29" y2="457.00" stroke="#999999" stroke-width="0.8"/>
<line x1="135.23" y1="455.40" x2="135.23" y2="457.00" stroke="#999999" stroke-width="0.8"/>
<line x1="137.83" y1="455.40" x2="137.83" y2="457.00" stroke="#999999" stroke-width="0.8"/>
<line x1="140.16" y1="455.40" x2="140.16" y2="458.20" stroke="#999999" stroke-width="1.0"/>
<text x="139.96" y="465.60" font-size="8.0" text-anchor="middle" fill="#1a1a1a" color="#1a1a1a">-6</text>
<line x1="155.46" y1="455.40" x2="155.46" y2="457.00" stroke="#999999" stroke-width="0.8"/>
<line x1="164.41" y1="455.40" x2="164.41" y2="457.00" stroke="#999999" stroke-width="0.8"/>
<line x1="170.76" y1="455.40" x2="170.76" y2="457.00" stroke="#999999" stroke-width="0.8"/>
<line x1="175.69" y1="455.40" x2="175.69" y2="457.00" stroke="#999999" stroke-width="0.8"/>
<line x1="179.71" y1="455.40" x2="179.71" y2="457.00" stroke="#999999" stroke-width="0.8"/>
<line x1="183.12" y1="455.40" x2="183.12" y2="457.00" stroke="#999999" stroke-width="0.8"/>
<line x1="186.06" y1="455.40" x2="186.06" y2="457.00" stroke="#999999" stroke-width="0.8"/>
<line x1="188.66" y1="455.40" x2="188.66" y2="457.00" stroke="#999999" stroke-width="0.8"/>
<line x1="190.99" y1="455.40" x2="190.99" y2="458.20" stroke="#999999" stroke-width="1.0"/>
<text x="190.79" y="465.60" font-size="8.0" text-anchor="middle" fill="#1a1a1a" color="#1a1a1a">-5</text>
<text x="20.50" y="403.90" font-size="8.4" text-anchor="middle" font-weight="bold" fill="#111" color="#111" transform="rotate(-90 20.5 403.9)">fraction surviving</text>
<text x="128.00" y="484.00" font-size="8.1" text-anchor="middle" font-weight="bold" fill="#111" color="#111">log[tofacitinib]</text>
<polyline points="38.50,354.26 40.70,354.34 42.91,354.43 45.11,354.53 47.31,354.64 49.51,354.78 51.72,354.93 53.92,355.10 56.12,355.29 58.32,355.50 60.53,355.74 62.73,356.00 64.93,356.29 67.13,356.60 69.34,356.94 71.54,357.29 73.74,357.67 75.94,358.06 78.15,358.46 80.35,358.87 82.55,359.28 84.76,359.68 86.96,360.07 89.16,360.45 91.36,360.82 93.57,361.16 95.77,361.48 97.97,361.77 100.17,362.04 102.38,362.29 104.58,362.51 106.78,362.71 108.98,362.89 111.19,363.04 113.39,363.18 115.59,363.30 117.79,363.40 120.00,363.50 122.20,363.57 124.40,363.64 126.61,363.70 128.81,363.75 131.01,363.80 133.21,363.84 135.42,363.87 137.62,363.90 139.82,363.92 142.02,363.94 144.23,363.96 146.43,363.97 148.63,363.99 150.83,364.00 153.04,364.01 155.24,364.01 157.44,364.02 159.64,364.03 161.85,364.03 164.05,364.04 166.25,364.04 168.46,364.04 170.66,364.05" stroke="#2a2a2a" stroke-width="1.0" fill="none"/>
<polyline points="57.31,354.15 59.20,354.20 61.09,354.27 62.97,354.34 64.86,354.43 66.75,354.52 68.64,354.64 70.53,354.77 72.42,354.92 74.31,355.09 76.20,355.28 78.09,355.51 79.98,355.76 81.87,356.04 83.76,356.37 85.64,356.73 87.53,357.13 89.42,357.58 91.31,358.08 93.20,358.63 95.09,359.22 96.98,359.86 98.87,360.55 100.76,361.27 102.65,362.04 104.54,362.84 106.43,363.65 108.32,364.49 110.20,365.32 112.09,366.16 113.98,366.98 115.87,367.77 117.76,368.54 119.65,369.27 121.54,369.96 123.43,370.60 125.32,371.20 127.21,371.74 129.10,372.24 130.99,372.70 132.87,373.10 134.76,373.47 136.65,373.79 138.54,374.08 140.43,374.33 142.32,374.56 144.21,374.75 146.10,374.93 147.99,375.08 149.88,375.21 151.77,375.32 153.66,375.42 155.54,375.51 157.43,375.58 159.32,375.65 161.21,375.70 163.10,375.75 164.99,375.79 166.88,375.83 168.77,375.86 170.66,375.88" stroke="#8a8a8a" stroke-width="1.0" fill="none"/>
<polyline points="57.31,355.10 59.20,355.23 61.09,355.38 62.97,355.54 64.86,355.71 66.75,355.90 68.64,356.11 70.53,356.34 72.42,356.59 74.31,356.87 76.20,357.17 78.09,357.50 79.98,357.86 81.87,358.25 83.76,358.67 85.64,359.13 87.53,359.63 89.42,360.18 91.31,360.76 93.20,361.40 95.09,362.08 96.98,362.82 98.87,363.60 100.76,364.45 102.65,365.35 104.54,366.31 106.43,367.32 108.32,368.40 110.20,369.53 112.09,370.72 113.98,371.96 115.87,373.26 117.76,374.61 119.65,376.00 121.54,377.43 123.43,378.90 125.32,380.40 127.21,381.92 129.10,383.45 130.99,385.00 132.87,386.54 134.76,388.08 136.65,389.60 138.54,391.10 140.43,392.58 142.32,394.02 144.21,395.42 146.10,396.78 147.99,398.08 149.88,399.34 151.77,400.54 153.66,401.68 155.54,402.77 157.43,403.80 159.32,404.76 161.21,405.67 163.10,406.53 164.99,407.33 166.88,408.07 168.77,408.76 170.66,409.41" stroke="#6a6a6a" stroke-width="1.0" fill="none"/>
<polyline points="38.50,355.20 40.70,355.33 42.91,355.47 45.11,355.62 47.31,355.79 49.51,355.97 51.72,356.17 53.92,356.39 56.12,356.63 58.32,356.88 60.53,357.16 62.73,357.47 64.93,357.80 67.13,358.16 69.34,358.55 71.54,358.97 73.74,359.42 75.94,359.91 78.15,360.45 80.35,361.02 82.55,361.64 84.76,362.31 86.96,363.03 89.16,363.79 91.36,364.62 93.57,365.50 95.77,366.44 97.97,367.45 100.17,368.52 102.38,369.65 104.58,370.85 106.78,372.11 108.98,373.45 111.19,374.85 113.39,376.31 115.59,377.85 117.79,379.44 120.00,381.09 122.20,382.80 124.40,384.55 126.61,386.36 128.81,388.20 131.01,390.08 133.21,391.98 135.42,393.90 137.62,395.84 139.82,397.78 142.02,399.71 144.23,401.63 146.43,403.53 148.63,405.41 150.83,407.25 153.04,409.05 155.24,410.81 157.44,412.52 159.64,414.17 161.85,415.76 164.05,417.29 166.25,418.75 168.46,420.15 170.66,421.48" stroke="#2a2a2a" stroke-width="1.0" fill="none"/>
<polyline points="38.50,355.22 40.70,355.36 42.91,355.52 45.11,355.69 47.31,355.87 49.51,356.07 51.72,356.30 53.92,356.54 56.12,356.81 58.32,357.10 60.53,357.42 62.73,357.77 64.93,358.15 67.13,358.56 69.34,359.01 71.54,359.50 73.74,360.04 75.94,360.62 78.15,361.25 80.35,361.93 82.55,362.67 84.76,363.47 86.96,364.33 89.16,365.25 91.36,366.25 93.57,367.31 95.77,368.45 97.97,369.67 100.17,370.97 102.38,372.34 104.58,373.79 106.78,375.33 108.98,376.94 111.19,378.63 113.39,380.40 115.59,382.24 117.79,384.14 120.00,386.11 122.20,388.13 124.40,390.20 126.61,392.31 128.81,394.45 131.01,396.61 133.21,398.78 135.42,400.95 137.62,403.12 139.82,405.27 142.02,407.39 144.23,409.47 146.43,411.51 148.63,413.50 150.83,415.42 153.04,417.29 155.24,419.08 157.44,420.80 159.64,422.44 161.85,424.00 164.05,425.48 166.25,426.89 168.46,428.21 170.66,429.45" stroke="#2a2a2a" stroke-width="1.0" fill="none"/>
<polyline points="73.57,355.06 75.19,355.19 76.81,355.34 78.43,355.50 80.05,355.67 81.66,355.86 83.28,356.07 84.90,356.31 86.52,356.56 88.14,356.84 89.75,357.15 91.37,357.49 92.99,357.86 94.61,358.26 96.23,358.71 97.84,359.19 99.46,359.72 101.08,360.30 102.70,360.92 104.32,361.61 105.93,362.34 107.55,363.15 109.17,364.01 110.79,364.94 112.41,365.95 114.02,367.03 115.64,368.18 117.26,369.42 118.88,370.73 120.50,372.13 122.12,373.60 123.73,375.16 125.35,376.79 126.97,378.50 128.59,380.28 130.21,382.13 131.82,384.04 133.44,386.00 135.06,388.01 136.68,390.06 138.30,392.13 139.91,394.22 141.53,396.32 143.15,398.41 144.77,400.49 146.39,402.55 148.00,404.57 149.62,406.56 151.24,408.48 152.86,410.36 154.48,412.16 156.10,413.90 157.71,415.56 159.33,417.15 160.95,418.65 162.57,420.08 164.19,421.42 165.80,422.69 167.42,423.87 169.04,424.98 170.66,426.01" stroke="#8a8a8a" stroke-width="1.0" fill="none"/>
<circle cx="124.91" cy="363.96" r="1.3" fill="#111"/>
<circle cx="124.91" cy="367.01" r="1.3" fill="#999"/>
<circle cx="124.91" cy="369.04" r="1.3" fill="#888"/>
<circle cx="124.91" cy="380.22" r="1.3" fill="#111"/>
<circle cx="124.91" cy="388.34" r="1.3" fill="#999"/>
<circle cx="124.91" cy="392.41" r="1.3" fill="#111"/>
<circle cx="155.41" cy="365.99" r="1.3" fill="#111"/>
<circle cx="155.41" cy="382.25" r="1.3" fill="#999"/>
<circle cx="155.41" cy="400.54" r="1.3" fill="#888"/>
<circle cx="155.41" cy="412.73" r="1.3" fill="#111"/>
<circle cx="155.41" cy="418.82" r="1.3" fill="#999"/>
<circle cx="155.41" cy="425.94" r="1.3" fill="#111"/>
<circle cx="170.66" cy="362.94" r="1.3" fill="#111"/>
<circle cx="170.66" cy="372.09" r="1.3" fill="#999"/>
<circle cx="170.66" cy="413.74" r="1.3" fill="#888"/>
<circle cx="170.66" cy="423.90" r="1.3" fill="#111"/>
<circle cx="170.66" cy="425.94" r="1.3" fill="#999"/>
<circle cx="170.66" cy="426.95" r="1.3" fill="#111"/>
<circle cx="38.50" cy="353.80" r="1.4" fill="#111"/>
<line x1="201.40" y1="360.50" x2="211.50" y2="360.50" stroke="#444" stroke-width="1.0"/>
<circle cx="206.4" cy="360.50" r="1.0" fill="#111"/>
<text x="217.90" y="363.40" font-size="8.2" text-anchor="start" fill="#1a1a1a" color="#1a1a1a">BaF3</text>
<line x1="201.40" y1="372.18" x2="211.50" y2="372.18" stroke="#999" stroke-width="1.0"/>
<circle cx="206.4" cy="372.18" r="1.0" fill="#111"/>
<text x="217.90" y="375.08" font-size="8.2" text-anchor="start" fill="#1a1a1a" color="#1a1a1a">WT</text>
<line x1="201.40" y1="383.86" x2="211.50" y2="383.86" stroke="#aaa" stroke-width="1.0"/>
<circle cx="206.4" cy="383.86" r="1.0" fill="#111"/>
<text x="217.90" y="386.76" font-size="8.2" text-anchor="start" fill="#1a1a1a" color="#1a1a1a">A572V</text>
<line x1="201.40" y1="395.54" x2="211.50" y2="395.54" stroke="#888" stroke-width="1.0"/>
<circle cx="206.4" cy="395.54" r="1.0" fill="#111"/>
<text x="217.90" y="398.44" font-size="8.2" text-anchor="start" fill="#1a1a1a" color="#1a1a1a">L156P</text>
<line x1="201.40" y1="407.22" x2="211.50" y2="407.22" stroke="#333" stroke-width="1.0"/>
<circle cx="206.4" cy="407.22" r="1.0" fill="#111"/>
<text x="217.90" y="410.12" font-size="8.2" text-anchor="start" fill="#1a1a1a" color="#1a1a1a">E183G</text>
<line x1="201.40" y1="418.90" x2="211.50" y2="418.90" stroke="#777" stroke-width="1.0"/>
<circle cx="206.4" cy="418.90" r="1.0" fill="#111"/>
<text x="217.90" y="421.80" font-size="8.2" text-anchor="start" fill="#1a1a1a" color="#1a1a1a">R172Q</text>
<rect x="322.50" y="404.30" width="4.45" height="30.20" fill="#4f4f4f"/>
<rect x="326.95" y="405.81" width="4.45" height="28.69" fill="#a8a8a8"/>
<rect x="331.40" y="405.81" width="4.45" height="28.69" fill="#7b7b7b"/>
<rect x="335.85" y="408.23" width="4.45" height="26.27" fill="#3a3a3a"/>
<rect x="346.98" y="404.30" width="4.45" height="30.20" fill="#4f4f4f"/>
<rect x="351.43" y="401.28" width="4.45" height="33.22" fill="#a8a8a8"/>
<rect x="355.88" y="413.36" width="4.45" height="21.14" fill="#7b7b7b"/>
<rect x="360.33" y="403.09" width="4.45" height="31.41" fill="#3a3a3a"/>
<rect x="371.46" y="404.30" width="4.45" height="30.20" fill="#4f4f4f"/>
<rect x="375.91" y="393.73" width="4.45" height="40.77" fill="#a8a8a8"/>
<rect x="380.36" y="380.74" width="4.45" height="53.76" fill="#7b7b7b"/>
<rect x="384.81" y="364.44" width="4.45" height="70.06" fill="#3a3a3a"/>
<rect x="395.94" y="404.30" width="4.45" height="30.20" fill="#4f4f4f"/>
<rect x="400.39" y="404.30" width="4.45" height="30.20" fill="#a8a8a8"/>
<rect x="404.84" y="410.34" width="4.45" height="24.16" fill="#7b7b7b"/>
<rect x="409.29" y="397.05" width="4.45" height="37.45" fill="#3a3a3a"/>
<rect x="420.42" y="404.30" width="4.45" height="30.20" fill="#4f4f4f"/>
<rect x="424.87" y="381.95" width="4.45" height="52.55" fill="#a8a8a8"/>
<rect x="429.32" y="367.46" width="4.45" height="67.04" fill="#7b7b7b"/>
<rect x="433.77" y="366.85" width="4.45" height="67.65" fill="#3a3a3a"/>
<rect x="444.90" y="404.30" width="4.45" height="30.20" fill="#4f4f4f"/>
<rect x="449.35" y="393.43" width="4.45" height="41.07" fill="#a8a8a8"/>
<rect x="453.80" y="402.19" width="4.45" height="32.31" fill="#7b7b7b"/>
<rect x="458.25" y="384.37" width="4.45" height="50.13" fill="#3a3a3a"/>
<line x1="318.80" y1="343.50" x2="318.80" y2="434.50" stroke="#808080" stroke-width="1.0"/>
<line x1="318.80" y1="434.50" x2="466.30" y2="434.50" stroke="#808080" stroke-width="1.0"/>
<line x1="316.40" y1="343.90" x2="318.80" y2="343.90" stroke="#808080" stroke-width="0.9"/>
<line x1="316.40" y1="374.10" x2="318.80" y2="374.10" stroke="#808080" stroke-width="0.9"/>
<line x1="316.40" y1="404.30" x2="318.80" y2="404.30" stroke="#808080" stroke-width="0.9"/>
<line x1="316.40" y1="434.50" x2="318.80" y2="434.50" stroke="#808080" stroke-width="0.9"/>
<text x="311.00" y="346.71" font-size="7.8" text-anchor="end" fill="#1a1a1a" color="#1a1a1a">3.00</text>
<text x="311.00" y="376.91" font-size="7.8" text-anchor="end" fill="#1a1a1a" color="#1a1a1a">2.00</text>
<text x="311.00" y="407.11" font-size="7.8" text-anchor="end" fill="#1a1a1a" color="#1a1a1a">1.00</text>
<text x="311.00" y="437.31" font-size="7.8" text-anchor="end" fill="#1a1a1a" color="#1a1a1a">0.00</text>
<line x1="319.16" y1="434.50" x2="319.16" y2="436.70" stroke="#808080" stroke-width="0.9"/>
<line x1="343.64" y1="434.50" x2="343.64" y2="436.70" stroke="#808080" stroke-width="0.9"/>
<line x1="368.12" y1="434.50" x2="368.12" y2="436.70" stroke="#808080" stroke-width="0.9"/>
<line x1="392.60" y1="434.50" x2="392.60" y2="436.70" stroke="#808080" stroke-width="0.9"/>
<line x1="417.08" y1="434.50" x2="417.08" y2="436.70" stroke="#808080" stroke-width="0.9"/>
<line x1="441.56" y1="434.50" x2="441.56" y2="436.70" stroke="#808080" stroke-width="0.9"/>
<line x1="466.04" y1="434.50" x2="466.04" y2="436.70" stroke="#808080" stroke-width="0.9"/>
<text x="334.00" y="448.50" font-size="8.0" text-anchor="end" fill="#1a1a1a" color="#1a1a1a" transform="rotate(-45 334.0 448.5)">BaF3</text>
<text x="358.48" y="448.50" font-size="8.0" text-anchor="end" fill="#1a1a1a" color="#1a1a1a" transform="rotate(-45 358.48 448.5)">Wt</text>
<text x="382.96" y="448.50" font-size="8.0" text-anchor="end" fill="#1a1a1a" color="#1a1a1a" transform="rotate(-45 382.96 448.5)">A572V</text>
<text x="407.44" y="448.50" font-size="8.0" text-anchor="end" fill="#1a1a1a" color="#1a1a1a" transform="rotate(-45 407.44 448.5)">L156P</text>
<text x="431.92" y="448.50" font-size="8.0" text-anchor="end" fill="#1a1a1a" color="#1a1a1a" transform="rotate(-45 431.92 448.5)">E183G</text>
<text x="456.40" y="448.50" font-size="8.0" text-anchor="end" fill="#1a1a1a" color="#1a1a1a" transform="rotate(-45 456.4 448.5)">R172Q</text>
<text x="286.00" y="393.20" font-size="8.0" text-anchor="middle" font-weight="bold" fill="#111" color="#111" transform="rotate(-90 286.0 393.2)">% annexinV over DMSO</text>
<rect x="481.30" y="381.60" width="3.60" height="3.60" fill="#4f4f4f"/>
<text x="487.40" y="386.30" font-size="8.1" text-anchor="start" fill="#1a1a1a" color="#1a1a1a">DMSO</text>
<rect x="481.30" y="397.20" width="3.60" height="3.60" fill="#a8a8a8"/>
<text x="487.40" y="401.90" font-size="8.1" text-anchor="start" fill="#1a1a1a" color="#1a1a1a">0.5</text>
<rect x="481.30" y="412.10" width="3.60" height="3.60" fill="#7b7b7b"/>
<text x="487.40" y="416.80" font-size="8.1" text-anchor="start" fill="#1a1a1a" color="#1a1a1a">1</text>
<rect x="481.30" y="427.10" width="3.60" height="3.60" fill="#3a3a3a"/>
<text x="487.40" y="431.80" font-size="8.1" text-anchor="start" fill="#1a1a1a" color="#1a1a1a">2</text>
<rect x="53.90" y="569.78" width="6.00" height="36.72" fill="#4d4d4d"/>
<rect x="59.90" y="547.75" width="6.00" height="58.75" fill="#a6a6a6"/>
<rect x="65.90" y="534.90" width="6.00" height="71.60" fill="#7a7a7a"/>
<rect x="80.90" y="563.35" width="6.00" height="43.15" fill="#4d4d4d"/>
<rect x="86.90" y="544.08" width="6.00" height="62.42" fill="#a6a6a6"/>
<rect x="92.90" y="538.57" width="6.00" height="67.93" fill="#7a7a7a"/>
<rect x="107.90" y="537.65" width="6.00" height="68.85" fill="#4d4d4d"/>
<rect x="113.90" y="525.72" width="6.00" height="80.78" fill="#a6a6a6"/>
<rect x="119.90" y="522.04" width="6.00" height="84.46" fill="#7a7a7a"/>
<rect x="134.90" y="558.76" width="6.00" height="47.74" fill="#4d4d4d"/>
<rect x="140.90" y="523.88" width="6.00" height="82.62" fill="#a6a6a6"/>
<rect x="146.90" y="520.21" width="6.00" height="86.29" fill="#7a7a7a"/>
<rect x="161.90" y="559.68" width="6.00" height="46.82" fill="#4d4d4d"/>
<rect x="167.90" y="523.88" width="6.00" height="82.62" fill="#a6a6a6"/>
<rect x="173.90" y="521.13" width="6.00" height="85.37" fill="#7a7a7a"/>
<rect x="188.90" y="554.17" width="6.00" height="52.33" fill="#4d4d4d"/>
<rect x="194.90" y="524.80" width="6.00" height="81.70" fill="#a6a6a6"/>
<rect x="200.90" y="519.29" width="6.00" height="87.21" fill="#7a7a7a"/>
<line x1="49.30" y1="514.30" x2="49.30" y2="606.50" stroke="#808080" stroke-width="1.0"/>
<line x1="49.30" y1="606.50" x2="211.60" y2="606.50" stroke="#808080" stroke-width="1.0"/>
<line x1="46.90" y1="514.70" x2="49.30" y2="514.70" stroke="#808080" stroke-width="0.9"/>
<line x1="46.90" y1="560.60" x2="49.30" y2="560.60" stroke="#808080" stroke-width="0.9"/>
<line x1="46.90" y1="606.50" x2="49.30" y2="606.50" stroke="#808080" stroke-width="0.9"/>
<text x="41.20" y="517.06" font-size="8.5" text-anchor="end" fill="#1a1a1a" color="#1a1a1a">100</text>
<text x="41.20" y="562.96" font-size="8.5" text-anchor="end" fill="#1a1a1a" color="#1a1a1a">50</text>
<text x="41.20" y="608.86" font-size="8.5" text-anchor="end" fill="#1a1a1a" color="#1a1a1a">0</text>
<line x1="49.40" y1="606.50" x2="49.40" y2="608.70" stroke="#808080" stroke-width="0.9"/>
<line x1="76.40" y1="606.50" x2="76.40" y2="608.70" stroke="#808080" stroke-width="0.9"/>
<line x1="103.40" y1="606.50" x2="103.40" y2="608.70" stroke="#808080" stroke-width="0.9"/>
<line x1="130.40" y1="606.50" x2="130.40" y2="608.70" stroke="#808080" stroke-width="0.9"/>
<line x1="157.40" y1="606.50" x2="157.40" y2="608.70" stroke="#808080" stroke-width="0.9"/>
<line x1="184.40" y1="606.50" x2="184.40" y2="608.70" stroke="#808080" stroke-width="0.9"/>
<line x1="211.40" y1="606.50" x2="211.40" y2="608.70" stroke="#808080" stroke-width="0.9"/>
<text x="65.90" y="621.00" font-size="8.4" text-anchor="end" fill="#1a1a1a" color="#1a1a1a" transform="rotate(-45 65.9 621.0)">BaF3</text>
<text x="92.90" y="621.00" font-size="8.4" text-anchor="end" fill="#1a1a1a" color="#1a1a1a" transform="rotate(-45 92.9 621.0)">Wt</text>
<text x="119.90" y="621.00" font-size="8.4" text-anchor="end" fill="#1a1a1a" color="#1a1a1a" transform="rotate(-45 119.9 621.0)">A572V</text>
<text x="146.90" y="621.00" font-size="8.4" text-anchor="end" fill="#1a1a1a" color="#1a1a1a" transform="rotate(-45 146.9 621.0)">L156P</text>
<text x="173.90" y="621.00" font-size="8.4" text-anchor="end" fill="#1a1a1a" color="#1a1a1a" transform="rotate(-45 173.9 621.0)">E183G</text>
<text x="200.90" y="621.00" font-size="8.4" text-anchor="end" fill="#1a1a1a" color="#1a1a1a" transform="rotate(-45 200.9 621.0)">R172Q</text>
<rect x="323.20" y="558.81" width="6.05" height="47.79" fill="#4d4d4d"/>
<rect x="329.25" y="578.11" width="6.05" height="28.49" fill="#a6a6a6"/>
<rect x="335.30" y="590.06" width="6.05" height="16.54" fill="#7a7a7a"/>
<rect x="350.20" y="565.25" width="6.05" height="41.36" fill="#4d4d4d"/>
<rect x="356.25" y="582.71" width="6.05" height="23.89" fill="#a6a6a6"/>
<rect x="362.30" y="586.38" width="6.05" height="20.22" fill="#7a7a7a"/>
<rect x="377.20" y="587.30" width="6.05" height="19.30" fill="#4d4d4d"/>
<rect x="383.25" y="597.41" width="6.05" height="9.19" fill="#a6a6a6"/>
<rect x="389.30" y="599.71" width="6.05" height="6.89" fill="#7a7a7a"/>
<rect x="404.20" y="569.84" width="6.05" height="36.76" fill="#4d4d4d"/>
<rect x="410.25" y="599.25" width="6.05" height="7.35" fill="#a6a6a6"/>
<rect x="416.30" y="601.09" width="6.05" height="5.51" fill="#7a7a7a"/>
<rect x="431.20" y="574.44" width="6.05" height="32.16" fill="#4d4d4d"/>
<rect x="437.25" y="597.87" width="6.05" height="8.73" fill="#a6a6a6"/>
<rect x="443.30" y="603.84" width="6.05" height="2.76" fill="#7a7a7a"/>
<rect x="458.20" y="569.84" width="6.05" height="36.76" fill="#4d4d4d"/>
<rect x="464.25" y="599.25" width="6.05" height="7.35" fill="#a6a6a6"/>
<rect x="470.30" y="602.00" width="6.05" height="4.60" fill="#7a7a7a"/>
<line x1="318.00" y1="514.30" x2="318.00" y2="606.60" stroke="#808080" stroke-width="1.0"/>
<line x1="318.00" y1="606.60" x2="481.00" y2="606.60" stroke="#808080" stroke-width="1.0"/>
<line x1="315.60" y1="514.70" x2="318.00" y2="514.70" stroke="#808080" stroke-width="0.9"/>
<line x1="315.60" y1="533.08" x2="318.00" y2="533.08" stroke="#808080" stroke-width="0.9"/>
<line x1="315.60" y1="551.46" x2="318.00" y2="551.46" stroke="#808080" stroke-width="0.9"/>
<line x1="315.60" y1="569.84" x2="318.00" y2="569.84" stroke="#808080" stroke-width="0.9"/>
<line x1="315.60" y1="588.22" x2="318.00" y2="588.22" stroke="#808080" stroke-width="0.9"/>
<line x1="315.60" y1="606.60" x2="318.00" y2="606.60" stroke="#808080" stroke-width="0.9"/>
<text x="310.40" y="517.06" font-size="8.5" text-anchor="end" fill="#1a1a1a" color="#1a1a1a">100</text>
<text x="310.40" y="535.44" font-size="8.5" text-anchor="end" fill="#1a1a1a" color="#1a1a1a">80</text>
<text x="310.40" y="553.82" font-size="8.5" text-anchor="end" fill="#1a1a1a" color="#1a1a1a">60</text>
<text x="310.40" y="572.20" font-size="8.5" text-anchor="end" fill="#1a1a1a" color="#1a1a1a">40</text>
<text x="310.40" y="590.58" font-size="8.5" text-anchor="end" fill="#1a1a1a" color="#1a1a1a">20</text>
<text x="310.40" y="608.96" font-size="8.5" text-anchor="end" fill="#1a1a1a" color="#1a1a1a">0</text>
<line x1="318.77" y1="606.60" x2="318.77" y2="608.80" stroke="#808080" stroke-width="0.9"/>
<line x1="345.77" y1="606.60" x2="345.77" y2="608.80" stroke="#808080" stroke-width="0.9"/>
<line x1="372.77" y1="606.60" x2="372.77" y2="608.80" stroke="#808080" stroke-width="0.9"/>
<line x1="399.77" y1="606.60" x2="399.77" y2="608.80" stroke="#808080" stroke-width="0.9"/>
<line x1="426.77" y1="606.60" x2="426.77" y2="608.80" stroke="#808080" stroke-width="0.9"/>
<line x1="453.77" y1="606.60" x2="453.77" y2="608.80" stroke="#808080" stroke-width="0.9"/>
<line x1="480.77" y1="606.60" x2="480.77" y2="608.80" stroke="#808080" stroke-width="0.9"/>
<text x="335.27" y="621.10" font-size="8.4" text-anchor="end" fill="#1a1a1a" color="#1a1a1a" transform="rotate(-45 335.275 621.1)">BaF3</text>
<text x="362.27" y="621.10" font-size="8.4" text-anchor="end" fill="#1a1a1a" color="#1a1a1a" transform="rotate(-45 362.275 621.1)">Wt</text>
<text x="389.27" y="621.10" font-size="8.4" text-anchor="end" fill="#1a1a1a" color="#1a1a1a" transform="rotate(-45 389.275 621.1)">A572V</text>
<text x="416.27" y="621.10" font-size="8.4" text-anchor="end" fill="#1a1a1a" color="#1a1a1a" transform="rotate(-45 416.275 621.1)">L156P</text>
<text x="443.27" y="621.10" font-size="8.4" text-anchor="end" fill="#1a1a1a" color="#1a1a1a" transform="rotate(-45 443.275 621.1)">E183G</text>
<text x="470.27" y="621.10" font-size="8.4" text-anchor="end" fill="#1a1a1a" color="#1a1a1a" transform="rotate(-45 470.275 621.1)">R172Q</text>
<text x="18.40" y="560.90" font-size="8.0" text-anchor="middle" font-weight="bold" fill="#111" color="#111" transform="rotate(-90 18.4 560.9)">% G1</text>
<text x="287.60" y="560.90" font-size="8.3" text-anchor="middle" font-weight="bold" fill="#111" color="#111" transform="rotate(-90 287.6 560.9)">% S/G2</text>
<rect x="227.20" y="552.80" width="3.60" height="3.60" fill="#4d4d4d"/>
<text x="232.80" y="557.60" font-size="8.5" text-anchor="start" fill="#1a1a1a" color="#1a1a1a">0</text>
<rect x="227.20" y="567.70" width="3.60" height="3.60" fill="#a6a6a6"/>
<text x="232.80" y="572.50" font-size="8.5" text-anchor="start" fill="#1a1a1a" color="#1a1a1a">0.5</text>
<rect x="227.20" y="582.80" width="3.60" height="3.60" fill="#7a7a7a"/>
<text x="232.80" y="587.60" font-size="8.5" text-anchor="start" fill="#1a1a1a" color="#1a1a1a">1</text>
<rect x="496.30" y="552.80" width="3.60" height="3.60" fill="#4d4d4d"/>
<text x="501.90" y="557.60" font-size="8.5" text-anchor="start" fill="#1a1a1a" color="#1a1a1a">0</text>
<rect x="496.30" y="567.70" width="3.60" height="3.60" fill="#a6a6a6"/>
<text x="501.90" y="572.50" font-size="8.5" text-anchor="start" fill="#1a1a1a" color="#1a1a1a">0.5</text>
<rect x="496.30" y="582.80" width="3.60" height="3.60" fill="#7a7a7a"/>
<text x="501.90" y="587.60" font-size="8.5" text-anchor="start" fill="#1a1a1a" color="#1a1a1a">1</text>
</svg>
</body></html>
